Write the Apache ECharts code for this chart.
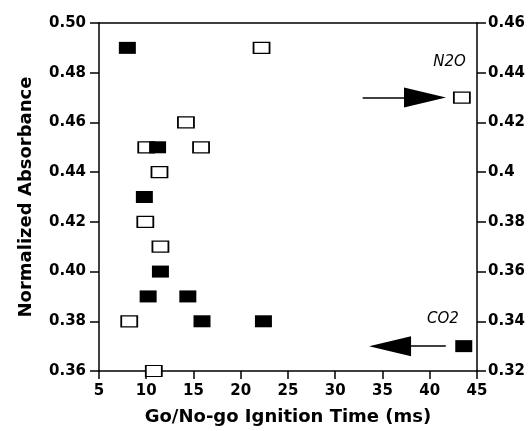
<!DOCTYPE html>
<html><head><meta charset="utf-8">
<script src="https://cdn.jsdelivr.net/npm/echarts@6/dist/echarts.min.js"></script>
<style>html,body{margin:0;padding:0;background:#fff}#c{width:528px;height:431px}</style>
</head><body><div id="c"></div>
<script>
const xTicks = [5, 10, 15, 20, 25, 30, 35, 40, 45];
const leftTicks = [0.36, 0.38, 0.40, 0.42, 0.44, 0.46, 0.48, 0.50];
const rightTicks = [0.32, 0.34, 0.36, 0.38, 0.40, 0.42, 0.44, 0.46];
// Filled squares (CO2) [ignition time ms, normalized absorbance]
const filledTime = [8.0, 11.2, 9.8, 11.5, 10.2, 14.4, 15.9, 22.4, 43.6];
const filledAbs  = [0.49, 0.45, 0.43, 0.40, 0.39, 0.39, 0.38, 0.38, 0.37];
// Open squares (N2O)
const openTime = [22.2, 14.2, 10.0, 15.8, 11.4, 9.9, 11.5, 8.2, 10.8, 43.4];
const openAbs  = [0.49, 0.46, 0.45, 0.45, 0.44, 0.42, 0.41, 0.38, 0.36, 0.47];
// annotations
const n2oArrow = [[32.9, 0.47], [39.5, 0.47]];
const co2Arrow = [[41.7, 0.37], [35.8, 0.37]];
const n2oLabel = [42.1, 0.4842];
const co2Label = [41.4, 0.381];

const FONT = 'DejaVu Sans';
const zip = (a, b) => a.map((v, i) => [v, b[i]]);

const chart = echarts.init(document.getElementById('c'));
chart.setOption({
  animation: false,
  backgroundColor: '#fff',
  grid: { left: 99, right: 51, top: 23, bottom: 58 },
  xAxis: [{
    type: 'value', min: 5, max: 45, interval: 5,
    axisLine: { lineStyle: { color: '#000', width: 1.5 } },
    axisTick: { show: true, length: 8, lineStyle: { color: '#000', width: 1.5 } },
    axisLabel: { color: '#000', fontFamily: FONT, fontWeight: 'bold', fontSize: 15, margin: 13 },
    splitLine: { show: false },
    name: 'Go/No-go Ignition Time (ms)', nameLocation: 'middle', nameGap: 37,
    nameTextStyle: { color: '#000', fontFamily: FONT, fontWeight: 'bold', fontSize: 18 }
  }, {
    type: 'value', min: 5, max: 45, position: 'top',
    axisLine: { show: true, lineStyle: { color: '#000', width: 1.5 } },
    axisTick: { show: false }, axisLabel: { show: false }, splitLine: { show: false }
  }],
  yAxis: [{
    type: 'value', min: 0.36, max: 0.50, interval: 0.02,
    axisLine: { show: true, lineStyle: { color: '#000', width: 1.5 } },
    axisTick: { show: true, length: 9, lineStyle: { color: '#000', width: 1.5 } },
    axisLabel: { color: '#000', fontFamily: FONT, fontWeight: 'bold', fontSize: 15, margin: 13,
      formatter: v => v.toFixed(2) },
    splitLine: { show: false },
    name: 'Normalized Absorbance', nameLocation: 'middle', nameGap: 64,
    nameTextStyle: { color: '#000', fontFamily: FONT, fontWeight: 'bold', fontSize: 18 }
  }, {
    type: 'value', min: 0.32, max: 0.46, interval: 0.02, position: 'right',
    axisLine: { show: true, lineStyle: { color: '#000', width: 1.5 } },
    axisTick: { show: true, length: 9, lineStyle: { color: '#000', width: 1.5 } },
    axisLabel: { color: '#000', fontFamily: FONT, fontWeight: 'bold', fontSize: 15, margin: 11,
      formatter: v => String(parseFloat(v.toFixed(2))) },
    splitLine: { show: false }
  }],
  series: [{
    type: 'scatter', yAxisIndex: 0,
    data: zip(openTime, openAbs),
    symbol: 'rect', symbolSize: [16, 11],
    itemStyle: { color: '#fff', borderColor: '#000', borderWidth: 1.5, opacity: 1 },
    z: 3,
    markLine: {
      silent: true, symbol: ['none', 'triangle'], symbolSize: [20, 42],
      lineStyle: { color: '#000', width: 1.5, type: 'solid' },
      label: { show: false },
      data: [[{ coord: n2oArrow[0] }, { coord: n2oArrow[1] }]]
    },
    markPoint: {
      silent: true, symbol: 'circle', symbolSize: 0,
      label: { show: true, position: 'inside', color: '#000', fontFamily: FONT, fontStyle: 'italic', fontSize: 15, formatter: 'N2O' },
      data: [{ coord: n2oLabel }]
    }
  }, {
    type: 'scatter', yAxisIndex: 0,
    data: zip(filledTime, filledAbs),
    symbol: 'rect', symbolSize: [17, 12],
    itemStyle: { color: '#000', opacity: 1 },
    z: 4,
    markLine: {
      silent: true, symbol: ['none', 'triangle'], symbolSize: [20, 42],
      lineStyle: { color: '#000', width: 1.5, type: 'solid' },
      label: { show: false },
      data: [[{ coord: co2Arrow[0] }, { coord: co2Arrow[1] }]]
    },
    markPoint: {
      silent: true, symbol: 'circle', symbolSize: 0,
      label: { show: true, position: 'inside', color: '#000', fontFamily: FONT, fontStyle: 'italic', fontSize: 15, formatter: 'CO2' },
      data: [{ coord: co2Label }]
    }
  }]
});
</script></body></html>
